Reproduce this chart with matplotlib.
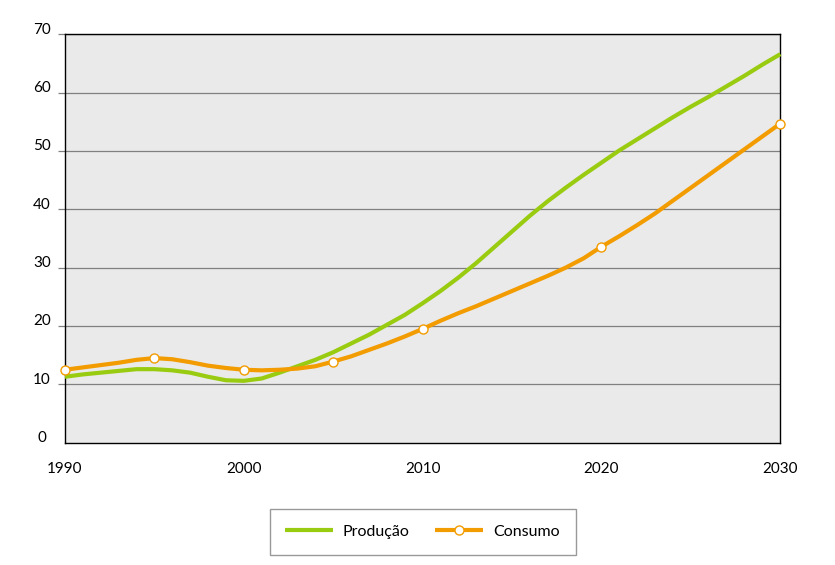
import matplotlib
matplotlib.use('Agg')
import matplotlib.pyplot as plt
from matplotlib.transforms import ScaledTranslation

years = list(range(1990, 2031))

producao = [
    11.3, 11.7, 12.0, 12.3, 12.6, 12.6, 12.4, 12.0, 11.3, 10.7,
    10.6, 11.0, 12.0, 13.1, 14.2, 15.5, 17.0, 18.5, 20.2, 21.9,
    23.9, 26.0, 28.3, 30.8, 33.5, 36.2, 38.9, 41.4, 43.7, 45.9,
    48.0, 50.1, 52.0, 53.9, 55.8, 57.6, 59.3, 61.1, 62.9, 64.8,
    66.6,
]

consumo = [
    12.5, 12.9, 13.3, 13.7, 14.2, 14.5, 14.3, 13.8, 13.2, 12.8,
    12.5, 12.4, 12.5, 12.7, 13.1, 13.9, 14.8, 15.9, 17.0, 18.2,
    19.5, 20.9, 22.2, 23.4, 24.7, 26.0, 27.3, 28.6, 30.0, 31.6,
    33.6, 35.4, 37.3, 39.3, 41.5, 43.7, 45.9, 48.1, 50.3, 52.5,
    54.7,
]

# years that carry a marker on the Consumo line
marker_years = [1990, 1995, 2000, 2005, 2010, 2020, 2030]

x_ticks = [1990, 2000, 2010, 2020, 2030]
y_ticks = [0, 10, 20, 30, 40, 50, 60, 70]
labels = ['Produção', 'Consumo']

plt.rcParams['font.family'] = ['Lato', 'DejaVu Sans']
plt.rcParams['font.size'] = 11

fig = plt.figure(figsize=(8.35, 5.65), dpi=100)
ax = fig.add_axes([0.0778, 0.2165, 0.8567, 0.7228])
ax.set_facecolor('#eaeaea')

# grid
for v in y_ticks[1:]:
    ax.axhline(v, color='#808080', lw=0.9, zorder=1)

ax.plot(years, producao, color='#99cc11', lw=3.0, label=labels[0],
        zorder=3, clip_on=False, solid_capstyle='butt')
ax.plot(years, consumo, color='#f29c00', lw=3.0, label=labels[1],
        marker='o', markevery=[years.index(y) for y in marker_years],
        markersize=6.5, markerfacecolor='white',
        markeredgecolor='#f29c00', markeredgewidth=1.0,
        zorder=4, clip_on=False, solid_capstyle='butt')

ax.set_xlim(1990, 2030)
ax.set_ylim(0, 70)
ax.set_xticks(x_ticks)
ax.set_yticks(y_ticks)

for s in ax.spines.values():
    s.set_color('black')
    s.set_linewidth(1.0)

ax.tick_params(axis='x', length=0, pad=14, labelsize=11)
ax.tick_params(axis='y', length=5, width=0.9, color='#808080',
               pad=11.5, labelsize=11)
ax.yaxis.get_major_ticks()[0].tick1line.set_visible(False)

offset = ScaledTranslation(0, 4.5 / 72, fig.dpi_scale_trans)
for lab in ax.get_yticklabels():
    lab.set_horizontalalignment('center')
    lab.set_transform(lab.get_transform() + offset)

leg = fig.legend(loc='center', bbox_to_anchor=(0.506, 0.059), ncol=2,
                 frameon=True, fancybox=False, edgecolor='#808080',
                 handlelength=2.95, handletextpad=0.65, columnspacing=1.6,
                 borderpad=1.0, fontsize=11.5)
leg.get_frame().set_linewidth(1.0)

fig.savefig('out.png', dpi=100)
